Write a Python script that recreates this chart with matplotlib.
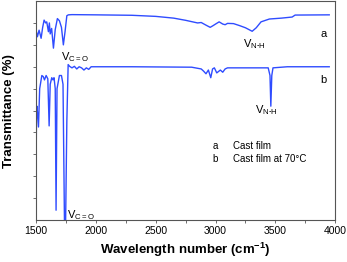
import matplotlib
matplotlib.use("Agg")
import matplotlib.pyplot as plt

plt.rcParams['font.family'] = ['Liberation Sans', 'DejaVu Sans']

# spectrum a: cast film (wavenumber, transmittance in arbitrary units)
wn_a = [1500, 1511, 1525, 1542, 1555, 1567, 1580, 1589, 1603, 1611, 1618, 1630,
        1645, 1660, 1678, 1695, 1712, 1728, 1742, 1757, 1770, 1800, 2000, 2300,
        2500, 2650, 2750, 2850, 2880, 2920, 2955, 2980, 3000, 3030, 3060, 3080,
        3100, 3150, 3200, 3250, 3306, 3340, 3380, 3450, 3550, 3640, 3665, 3950]
tr_a = [8.67, 8.37, 8.67, 8.3, 8.8, 9.13, 9.0, 9.05, 8.6, 9.0, 8.5, 8.75,
        7.85, 8.7, 9.2, 9.1, 8.8, 8.0, 8.6, 9.33, 9.37, 9.38, 9.37, 9.35,
        9.3, 9.22, 9.12, 9.0, 9.02, 8.9, 8.8, 8.88, 8.95, 9.05, 8.95, 8.92,
        8.98, 8.97, 8.88, 8.78, 8.62, 8.78, 9.05, 9.18, 9.22, 9.27, 9.36, 9.37]

# spectrum b: cast film at 70 C
wn_b = [1500, 1503, 1507, 1512, 1520, 1530, 1548, 1560, 1570, 1584, 1598, 1609,
        1618, 1631, 1641, 1650, 1660, 1667, 1675, 1695, 1712, 1725, 1737, 1747,
        1757, 1768, 1780, 1800, 1820, 1840, 1860, 1880, 1900, 1920, 1940, 1960,
        2000, 2300, 2800, 2880, 2900, 2920, 2940, 2960, 2975, 2990, 3010, 3040,
        3060, 3080, 3100, 3300, 3440, 3455, 3462, 3470, 3480, 3600, 3950]
tr_b = [2.1, 4.6, 5.2, 4.9, 4.25, 6.0, 6.6, 6.55, 6.4, 6.6, 6.45, 4.3,
        6.2, 6.5, 6.4, 6.5, 6.0, 0.45, 6.0, 6.6, 6.6, 6.2, 0.0, 0.0,
        4.5, 7.1, 7.02, 6.95, 7.02, 6.9, 7.0, 6.95, 6.85, 6.95, 6.88, 7.0,
        7.0, 7.0, 6.98, 6.9, 6.8, 6.68, 6.85, 6.5, 6.9, 6.95, 6.72, 6.85,
        6.75, 6.9, 6.95, 6.95, 6.95, 6.6, 5.2, 6.6, 6.95, 7.0, 7.0]

xticks = [1500, 2000, 2500, 3000, 3500, 4000]
blue = '#2f4cff'

fig = plt.figure(figsize=(3.47, 2.62), dpi=100)
ax = fig.add_axes([0.104, 0.160, 0.862, 0.836])

ax.plot(wn_a, tr_a, color=blue, lw=1.0)
ax.plot(wn_b, tr_b, color=blue, lw=1.0)

ax.set_xlim(1500, 4000)
ax.set_ylim(0, 10)
ax.set_xticks(xticks)
ax.set_xticks(range(1750, 4000, 500), minor=True)
ax.set_yticks(range(1, 10))
ax.set_yticklabels([])
ax.tick_params(axis='both', which='both', direction='out', length=2.5,
               width=0.6, color='#555555', labelsize=7.5, pad=1.5)
for s in ax.spines.values():
    s.set_color('#555555')
    s.set_linewidth(0.8)

# peak labels
ax.text(1712, 7.3, r'V$_\mathregular{C=O}$', fontsize=8)
ax.text(1756, 0.1, r'V$_\mathregular{C=O}$', fontsize=8)
ax.text(3231, 7.9, r'V$_\mathregular{N\text{-}H}$', fontsize=8)
ax.text(3331, 4.9, r'V$_\mathregular{N\text{-}H}$', fontsize=8)
ax.text(3900, 8.5, 'a', fontsize=8, ha='center', va='center')
ax.text(3900, 6.4, 'b', fontsize=8, ha='center', va='center')

# legend text
ax.text(2997, 3.38, 'a', fontsize=7, ha='center', va='center')
ax.text(3147, 3.38, 'Cast film', fontsize=7, va='center')
ax.text(2997, 2.79, 'b', fontsize=7, ha='center', va='center')
ax.text(3147, 2.79, 'Cast film at 70\u00b0C', fontsize=7, va='center')

ax.set_xlabel(r'Wavelength number (cm$^\mathregular{-1}$)', fontsize=9.5,
              fontweight='heavy', labelpad=4)
ax.set_ylabel('Transmittance (%)', fontsize=9.5, fontweight='heavy', labelpad=11)

fig.savefig('out.png', dpi=100)
